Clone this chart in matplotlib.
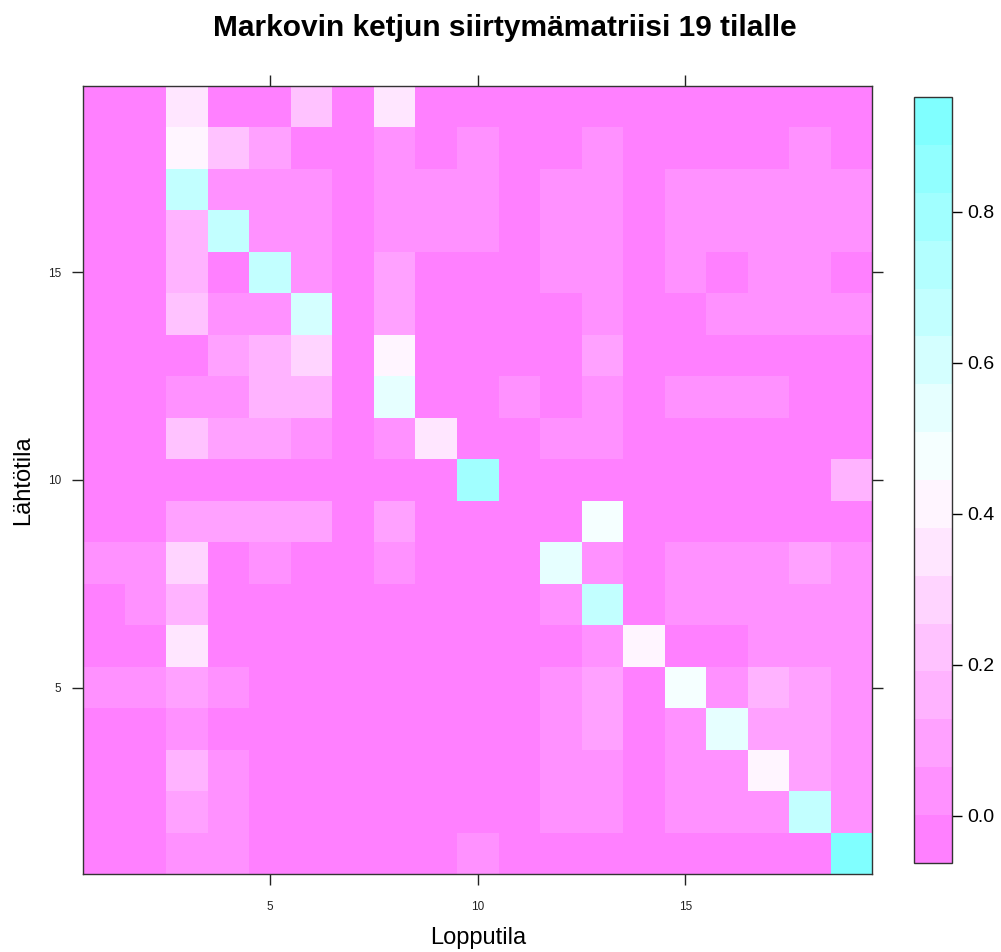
import numpy as np
import matplotlib.pyplot as plt
from matplotlib.colors import ListedColormap, BoundaryNorm, hsv_to_rgb

plt.rcParams['font.family'] = ['Liberation Sans', 'DejaVu Sans']

n_states = 19
states = np.arange(1, n_states + 1)

# siirtymätodennäköisyydet: rivi = lähtötila, sarake = lopputila
# (tilasta -> {tila: todennäköisyys})
rows = {
    1: {3: .04, 4: .03, 10: .03, 19: .89},
    2: {3: .10, 4: .04, 12: .03, 13: .03, 15: .03, 16: .03, 17: .03, 18: .67, 19: .04},
    3: {3: .15, 4: .04, 12: .03, 13: .03, 15: .04, 16: .05, 17: .44, 18: .10, 19: .04},
    4: {3: .05, 12: .04, 13: .09, 15: .05, 16: .55, 17: .08, 18: .08, 19: .05},
    5: {1: .02, 2: .02, 3: .07, 4: .02, 12: .02, 13: .08, 15: .46, 16: .02, 17: .14, 18: .07, 19: .02},
    6: {3: .37, 13: .05, 14: .43, 17: .05, 18: .05, 19: .05},
    7: {2: .05, 3: .15, 12: .04, 13: .66, 15: .02, 16: .02, 17: .02, 18: .02, 19: .02},
    8: {1: .02, 2: .02, 3: .27, 5: .02, 8: .02, 12: .52, 13: .02, 15: .02, 16: .02, 17: .02, 18: .07, 19: .02},
    9: {3: .08, 4: .09, 5: .09, 6: .09, 8: .10, 13: .50},
    10: {10: .82, 19: .18},
    11: {3: .22, 4: .10, 5: .10, 6: .05, 8: .05, 9: .35, 12: .05, 13: .05},
    12: {3: .03, 4: .03, 5: .14, 6: .14, 8: .53, 11: .03, 13: .03, 15: .03, 16: .03, 17: .03},
    13: {4: .09, 5: .15, 6: .27, 8: .40, 13: .09},
    14: {3: .20, 4: .03, 5: .03, 6: .60, 8: .08, 13: .02, 16: .01, 17: .01, 18: .01, 19: .01},
    15: {3: .14, 5: .66, 6: .03, 8: .08, 12: .02, 13: .02, 15: .02, 17: .02, 18: .02},
    16: {3: .14, 4: .66, 5: .016, 6: .016, 8: .016, 9: .016, 10: .016, 12: .016, 13: .016,
         15: .016, 16: .016, 17: .016, 18: .016, 19: .016},
    17: {3: .67, 4: .025, 5: .025, 6: .025, 8: .025, 9: .025, 10: .025, 12: .025, 13: .025,
         15: .025, 16: .025, 17: .025, 18: .025, 19: .025},
    18: {3: .41, 4: .22, 5: .10, 8: .06, 10: .06, 13: .06, 18: .06},
    19: {3: .37, 6: .25, 8: .38},
}

P = np.zeros((n_states, n_states))
for i, d in rows.items():
    for j, p in d.items():
        P[i - 1, j - 1] = p

# lattice-tyyliset tasot: 16 väliä, rajoja laajennettu 7 %
zmin, zmax = P.min(), P.max()
ext = 0.07 * (zmax - zmin)
at = np.linspace(zmin - ext, zmax + ext, 17)

# rev(cm.colors(100)) ja siitä 16 tasaisesti valittua väriä
sat = np.concatenate([np.linspace(0.5, 0.01, 50), np.linspace(0.01, 0.5, 50)])
hue = np.concatenate([np.full(50, 10 / 12), np.full(50, 0.5)])
pal = hsv_to_rgb(np.column_stack([hue, sat, np.ones(100)]))
idx = np.floor(np.linspace(1, 100, 16) + 0.5).astype(int) - 1
cmap = ListedColormap(pal[idx])
norm = BoundaryNorm(at, cmap.N)

fig = plt.figure(figsize=(10.01, 9.52), dpi=100)
ax = fig.add_axes([0.0832, 0.0816, 0.7882, 0.8284])
edges = np.arange(0.5, n_states + 1)
mesh = ax.pcolormesh(edges, edges, P, cmap=cmap, norm=norm)
ax.set_xlim(0.5, 19.5)
ax.set_ylim(0.5, 19.5)

ax.set_xticks([5, 10, 15])
ax.set_yticks([5, 10, 15])
ax.tick_params(direction='out', length=8, width=1, labelsize=8.5, colors='#222222',
               top=True, right=True, labeltop=False, labelright=False)
ax.tick_params(axis='x', pad=11)
ax.tick_params(axis='y', pad=8)
for s in ax.spines.values():
    s.set_color('#333333')
    s.set_linewidth(1)

ax.set_xlabel('Lopputila', fontsize=17, labelpad=10)
ax.set_ylabel('Lähtötila', fontsize=17, labelpad=10)

fig.text(0.504, 0.985, 'Markovin ketjun siirtymämatriisi 19 tilalle',
         ha='center', va='top', fontsize=21.5, fontweight='bold')

cax = fig.add_axes([0.9131, 0.0935, 0.0377, 0.8046])
cb = fig.colorbar(mesh, cax=cax, ticks=[0.0, 0.2, 0.4, 0.6, 0.8], format='%.1f')
cb.minorticks_off()
cb.outline.set_edgecolor('#333333')
cb.outline.set_linewidth(1)
cax.tick_params(direction='out', length=7, width=1, labelsize=14, pad=4)

fig.savefig('out.png', dpi=100)
